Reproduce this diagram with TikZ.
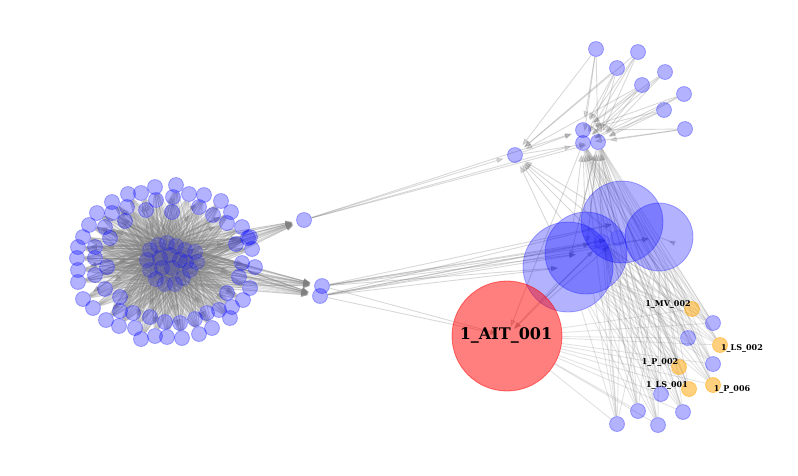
\documentclass[tikz,border=0pt]{standalone}
\usepackage{fontspec}
\setmainfont{DejaVu Serif}
\usetikzlibrary{arrows.meta}
\pgfdeclarelayer{bg}
\pgfdeclarelayer{paper}
\pgfsetlayers{paper,bg,main}
\tikzset{
  bn/.style={circle,inner sep=0pt,minimum size=15pt,fill=blue,fill opacity=0.3,draw=blue,draw opacity=0.3,line width=0.8pt},
  cn/.style={circle,inner sep=0pt,minimum size=15pt,fill=blue,fill opacity=0.2,draw=blue,draw opacity=0.2,line width=0.8pt},
  kn/.style={circle,inner sep=0pt,minimum size=15pt,fill=blue,fill opacity=0.12,draw=blue,draw opacity=0.15,line width=0.8pt},
  on/.style={circle,inner sep=0pt,minimum size=15pt,fill={rgb,255:red,255;green,165;blue,0},fill opacity=0.5,draw={rgb,255:red,255;green,165;blue,0},draw opacity=0.5,line width=0.8pt},
  rn/.style={circle,inner sep=0pt,minimum size=110pt,fill=red,fill opacity=0.5,draw=red,draw opacity=0.5,line width=0.8pt},
  big/.style={circle,inner sep=0pt,fill=blue,fill opacity=0.3,draw=blue,draw opacity=0.3,line width=0.8pt},
  ed/.style={draw=gray,opacity=0.22,line width=0.9pt},
  eddense/.style={draw=gray,opacity=0.2,line width=0.8pt},
  ar/.style={draw=gray,opacity=0.3,line width=0.9pt,shorten >=4pt,-{Triangle[length=7pt,width=5pt]}},
  arc/.style={ar,shorten >=10pt},
  lab/.style={inner sep=0pt,font=\bfseries\fontsize{8}{8}\selectfont},
}
\begin{document}
\begin{tikzpicture}[x=1pt,y=-1pt]
\begin{pgfonlayer}{paper}
\fill[white] (0,0) rectangle (798,475);
\end{pgfonlayer}
\useasboundingbox (0,0) rectangle (798,475);
% ---- left cluster
\foreach \x/\y [count=\i] in {150/250,158/245,167/243,176/246,185/250,195/252,197/262,190/270,183/278,175/284,165/284,156/279,150/270,147/260,160/258,170/255,180/260,172/268,162/268,186/262}
  \node[cn] (c\i) at (\x,\y) {};
\foreach \x/\y [count=\i] in {176/185,189/194,204/195,221/201,231/212,242/227,250/237,252/249,255/267,250/288,243/300,230/318,212/328,199/334,182/338,167/337,155/336,141/339,135/328,119/326,106/320,93/308,83/299,78/282,78/270,77/258,78/247,83/237,89/225,97/213,112/202,128/194,141/193,155/187}
  \node[bn] (o\i) at (\x,\y) {};
\foreach \x/\y [count=\i] in {173/197,199/207,213/215,227/223,248/238,236/244,242/263,239/277,227/293,232/307,219/310,207/313,195/319,180/323,165/322,150/317,133/313,120/311,120/297,105/289,95/275,107/267,95/258,95/247,110/238,105/227,125/221,112/213,127/207,146/210,156/200,172/212}
  \node[bn] (n\i) at (\x,\y) {};
% ---- hubs
\node[bn] (h1) at (304,220) {};
\node[bn] (h2) at (322,286) {};
\node[bn] (h3) at (320,296) {};
% ---- top right
\node[bn] (t0) at (515,155) {};
\node[bn] (t1) at (583,130) {};
\node[bn] (t2) at (583,143) {};
\node[bn] (t3) at (598,142) {};
\foreach \x/\y [count=\i] in {596/49,638/52,617/68,665/72,642/85,684/94,664/110,685/129}
  \node[bn] (u\i) at (\x,\y) {};
% ---- big nodes
\node[big,minimum size=90pt] (B1) at (568,267) {};
\node[big,minimum size=82pt] (B2) at (586,253) {};
\node[big,minimum size=82pt] (B3) at (622,222) {};
\node[big,minimum size=68pt] (B4) at (659,237) {};
\node[kn] (k1) at (602,242) {};
\node[kn] (k2) at (618,238) {};
\node[rn] (R) at (507,336) {};
\node[inner sep=0pt,font=\bfseries\fontsize{16}{16}\selectfont] (Rl) at (506,335) {1\_AIT\_001};
% ---- bottom right
\node[on] (s1) at (692,309) {};
\node[bn] (s2) at (713,323) {};
\node[bn] (s3) at (688,338) {};
\node[on] (s4) at (720,345) {};
\node[bn] (s5) at (713,364) {};
\node[on] (s6) at (679,367) {};
\node[on] (s7) at (713,385) {};
\node[on] (s8) at (689,389) {};
\node[bn] (s9) at (661,394) {};
\node[bn] (s10) at (638,411) {};
\node[bn] (s11) at (683,412) {};
\node[bn] (s12) at (658,425) {};
\node[bn] (s13) at (617,424) {};
\node[lab] (l1) at (668,304) {1\_MV\_002};
\node[lab] (l4) at (742,348) {1\_LS\_002};
\node[lab] (l6) at (660,362) {1\_P\_002};
\node[lab] (l8) at (667,385) {1\_LS\_001};
\node[lab] (l7) at (732,389) {1\_P\_006};
% ---- edges
\begin{pgfonlayer}{bg}
\foreach \i in {1,...,20}{
  \foreach \j in {1,...,34} \draw[eddense] (c\i) -- (o\j);
  \foreach \j in {1,...,32} \draw[eddense] (c\i) -- (n\j);
}
\foreach \i in {1,2,3}{
  \foreach \j in {1,3,...,33} \draw[ar,opacity=0.2] (c\i) -- (o\j);
  \foreach \j in {2,4,...,32} \draw[ar,opacity=0.2] (c\i) -- (n\j);
}
\foreach \i in {1,...,20}{
  \draw[ar,opacity=0.25] (c\i) -- (h1);
  \draw[ar,opacity=0.25] (c\i) -- (h2);
  \draw[ar,opacity=0.25] (c\i) -- (h3);
}
\foreach \t in {t0,t1,t2,t3} \draw[ar] (h1) -- (\t);
\draw[ar] (t0) -- (t1);
\draw[ar] (t0) -- (t3);
\foreach \i in {1,2,3,5} \draw[ar] (u\i) -- (t0);
\foreach \i in {1,...,8}{
  \draw[ar] (u\i) -- (t1);
  \draw[ar] (u\i) -- (t2);
  \draw[ar] (u\i) -- (t3);
}
\foreach \b in {B1,B2,B3,k1,k2}{
  \draw[ar] (\b) -- (t0);
  \draw[ar] (\b) -- (t2);
  \draw[ar] (\b) -- (t3);
}
\foreach \b in {B1,B2,B3,B4,R}{
  \draw[arc] (h2) -- (\b.center);
  \draw[arc] (h3) -- (\b.center);
}
\foreach \b in {k1,k2}{
  \draw[ar] (h2) -- (\b);
  \draw[ar] (h3) -- (\b);
}
\draw[arc] (B2) -- (R.center);
\draw[arc] (B3) -- (R.center);
\draw[arc] (t2) -- (R.center);
\draw[ar] (R) -- (k1);
\draw[ar] (R) -- (k2);
\draw[arc] (B3) -- (B4.center);
\draw[arc] (t3) -- (B1.center);
\draw[arc] (t3) -- (B2.center);
\foreach \i in {1,...,13}{
  \foreach \b in {B1,B2,B3,B4,R,t2,t3,k1}
    \draw[ed] (s\i) -- (\b);
}
\end{pgfonlayer}
\end{tikzpicture}
\end{document}
